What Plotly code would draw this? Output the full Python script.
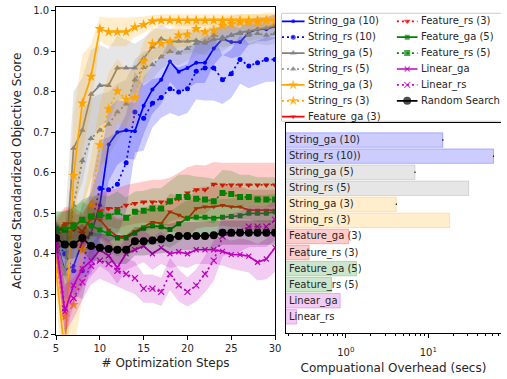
import plotly.graph_objects as go

# ---------------- data ----------------
steps = list(range(5, 31))

string_ga_10 = [0.43, 0.36, 0.37, 0.43, 0.45, 0.52, 0.67, 0.70, 0.705, 0.703, 0.766, 0.806, 0.83, 0.875, 0.85, 0.859, 0.872, 0.872, 0.907, 0.931, 0.923, 0.923, 0.947, 0.955, 0.955, 0.962]
string_rs_10 = [0.43, 0.40, 0.358, 0.358, 0.47, 0.562, 0.558, 0.572, 0.625, 0.75, 0.735, 0.772, 0.786, 0.808, 0.80, 0.808, 0.851, 0.859, 0.859, 0.83, 0.845, 0.88, 0.864, 0.872, 0.88, 0.88]
string_ga_5 = [0.43, 0.35, 0.661, 0.705, 0.794, 0.816, 0.816, 0.859, 0.859, 0.859, 0.883, 0.911, 0.931, 0.925, 0.925, 0.925, 0.927, 0.92, 0.93, 0.93, 0.94, 0.947, 0.95, 0.955, 0.958, 0.965]
string_rs_5 = [0.43, 0.35, 0.52, 0.63, 0.685, 0.705, 0.72, 0.75, 0.77, 0.83, 0.86, 0.867, 0.887, 0.90, 0.896, 0.907, 0.92, 0.925, 0.94, 0.935, 0.94, 0.944, 0.94, 0.944, 0.94, 0.944]
string_ga_3 = [0.36, 0.15, 0.593, 0.772, 0.838, 0.956, 0.948, 0.948, 0.948, 0.96, 0.966, 0.975, 0.977, 0.977, 0.977, 0.977, 0.977, 0.977, 0.977, 0.977, 0.977, 0.977, 0.977, 0.977, 0.977, 0.977]
string_rs_3 = [0.38, 0.245, 0.274, 0.41, 0.52, 0.669, 0.758, 0.802, 0.782, 0.786, 0.875, 0.919, 0.919, 0.925, 0.94, 0.942, 0.956, 0.948, 0.952, 0.964, 0.968, 0.972, 0.972, 0.972, 0.976, 0.976]
feature_ga_3 = [0.45, 0.475, 0.475, 0.455, 0.488, 0.484, 0.459, 0.443, 0.443, 0.455, 0.467, 0.478, 0.475, 0.504, 0.496, 0.486, 0.512, 0.516, 0.516, 0.52, 0.516, 0.516, 0.508, 0.508, 0.508, 0.508]
feature_rs_3 = [0.44, 0.47, 0.46, 0.45, 0.49, 0.505, 0.512, 0.512, 0.52, 0.524, 0.528, 0.528, 0.528, 0.528, 0.536, 0.55, 0.558, 0.558, 0.572, 0.57, 0.57, 0.57, 0.57, 0.57, 0.57, 0.57]
feature_ga_5 = [0.459, 0.459, 0.467, 0.484, 0.469, 0.459, 0.451, 0.439, 0.439, 0.451, 0.463, 0.469, 0.467, 0.46, 0.474, 0.488, 0.49, 0.49, 0.488, 0.49, 0.492, 0.494, 0.5, 0.5, 0.5, 0.504]
feature_rs_5 = [0.46, 0.46, 0.47, 0.484, 0.492, 0.496, 0.492, 0.504, 0.489, 0.504, 0.506, 0.512, 0.512, 0.53, 0.54, 0.54, 0.536, 0.534, 0.53, 0.55, 0.548, 0.54, 0.54, 0.534, 0.534, 0.534]
linear_ga = [0.43, 0.257, 0.322, 0.363, 0.383, 0.41, 0.395, 0.366, 0.40, 0.41, 0.419, 0.40, 0.415, 0.40, 0.405, 0.40, 0.41, 0.41, 0.41, 0.406, 0.398, 0.398, 0.394, 0.379, 0.387, 0.415]
linear_rs = [0.43, 0.265, 0.29, 0.33, 0.37, 0.383, 0.375, 0.358, 0.35, 0.34, 0.314, 0.314, 0.306, 0.35, 0.322, 0.306, 0.322, 0.35, 0.383, 0.443, 0.45, 0.455, 0.467, 0.467, 0.467, 0.484]
random_search = [0.439, 0.423, 0.423, 0.439, 0.419, 0.415, 0.412, 0.41, 0.41, 0.431, 0.431, 0.433, 0.436, 0.439, 0.444, 0.444, 0.444, 0.444, 0.446, 0.452, 0.452, 0.452, 0.452, 0.452, 0.452, 0.452]

# spread (shaded band half-widths)
string_ga_10_sd = [0.05, 0.07, 0.08, 0.09, 0.1, 0.1, 0.09, 0.08, 0.07, 0.07, 0.07, 0.06, 0.06, 0.05, 0.05, 0.05, 0.05, 0.05, 0.04, 0.04, 0.04, 0.035, 0.03, 0.03, 0.03, 0.03]
string_rs_10_sd = [0.05, 0.06, 0.06, 0.07, 0.1, 0.12, 0.13, 0.13, 0.12, 0.1, 0.08, 0.06, 0.05, 0.06, 0.06, 0.06, 0.07, 0.08, 0.08, 0.06, 0.06, 0.06, 0.055, 0.055, 0.055, 0.055]
string_ga_5_sd = [0.05, 0.12, 0.14, 0.13, 0.11, 0.1, 0.09, 0.08, 0.07, 0.06, 0.05, 0.04, 0.035, 0.03, 0.03, 0.03, 0.03, 0.03, 0.03, 0.03, 0.025, 0.025, 0.025, 0.025, 0.025, 0.025]
string_rs_5_sd = [0.05, 0.1, 0.12, 0.12, 0.1, 0.09, 0.08, 0.07, 0.06, 0.05, 0.04, 0.035, 0.03, 0.03, 0.03, 0.03, 0.03, 0.03, 0.025, 0.025, 0.025, 0.025, 0.025, 0.025, 0.025, 0.025]
string_ga_3_sd = [0.06, 0.15, 0.15, 0.12, 0.08, 0.03, 0.035, 0.035, 0.035, 0.025, 0.02, 0.015, 0.015, 0.015, 0.015, 0.015, 0.015, 0.015, 0.015, 0.015, 0.015, 0.015, 0.015, 0.015, 0.015, 0.015]
string_rs_3_sd = [0.06, 0.1, 0.12, 0.12, 0.12, 0.1, 0.09, 0.08, 0.07, 0.07, 0.05, 0.04, 0.035, 0.03, 0.03, 0.03, 0.025, 0.025, 0.02, 0.02, 0.02, 0.02, 0.02, 0.02, 0.02, 0.02]
feature_ga_3_sd = [0.04, 0.04, 0.04, 0.045, 0.045, 0.045, 0.045, 0.045, 0.045, 0.045, 0.045, 0.045, 0.045, 0.045, 0.045, 0.045, 0.05, 0.05, 0.05, 0.05, 0.05, 0.05, 0.05, 0.05, 0.05, 0.05]
feature_rs_3_sd = [0.04, 0.04, 0.04, 0.045, 0.045, 0.045, 0.045, 0.05, 0.05, 0.05, 0.05, 0.055, 0.055, 0.06, 0.064, 0.064, 0.062, 0.06, 0.055, 0.055, 0.055, 0.055, 0.055, 0.055, 0.055, 0.055]
feature_ga_5_sd = [0.045, 0.045, 0.045, 0.045, 0.045, 0.045, 0.045, 0.045, 0.045, 0.045, 0.045, 0.045, 0.045, 0.045, 0.045, 0.045, 0.045, 0.045, 0.045, 0.045, 0.045, 0.045, 0.045, 0.045, 0.045, 0.045]
feature_rs_5_sd = [0.045, 0.045, 0.045, 0.05, 0.05, 0.05, 0.05, 0.05, 0.05, 0.05, 0.05, 0.05, 0.05, 0.05, 0.055, 0.055, 0.055, 0.055, 0.055, 0.057, 0.057, 0.055, 0.055, 0.055, 0.055, 0.055]
linear_ga_sd = [0.04, 0.06, 0.05, 0.045, 0.04, 0.04, 0.04, 0.04, 0.04, 0.04, 0.04, 0.04, 0.04, 0.035, 0.035, 0.035, 0.035, 0.035, 0.035, 0.035, 0.035, 0.04, 0.04, 0.045, 0.05, 0.06]
linear_rs_sd = [0.04, 0.06, 0.05, 0.045, 0.045, 0.045, 0.045, 0.04, 0.04, 0.04, 0.035, 0.035, 0.035, 0.04, 0.04, 0.036, 0.04, 0.045, 0.05, 0.05, 0.05, 0.05, 0.05, 0.05, 0.05, 0.05]
random_search_sd = [0.035, 0.035, 0.035, 0.035, 0.035, 0.035, 0.035, 0.035, 0.035, 0.035, 0.035, 0.035, 0.035, 0.035, 0.035, 0.035, 0.035, 0.035, 0.035, 0.03, 0.03, 0.03, 0.03, 0.03, 0.03, 0.03]

series_names = ["String_ga (10)", "String_rs (10)", "String_ga (5)", "String_rs (5)",
                "String_ga (3)", "String_rs (3)", "Feature_ga (3)", "Feature_rs (3)",
                "Feature_ga (5)", "Feature_rs (5)", "Linear_ga", "Linear_rs", "Random Search"]
series_values = [string_ga_10, string_rs_10, string_ga_5, string_rs_5, string_ga_3, string_rs_3,
                 feature_ga_3, feature_rs_3, feature_ga_5, feature_rs_5, linear_ga, linear_rs, random_search]
series_sd = [string_ga_10_sd, string_rs_10_sd, string_ga_5_sd, string_rs_5_sd, string_ga_3_sd, string_rs_3_sd,
             feature_ga_3_sd, feature_rs_3_sd, feature_ga_5_sd, feature_rs_5_sd, linear_ga_sd, linear_rs_sd,
             random_search_sd]

bar_labels = ["String_ga (10)", "String_rs (10))", "String_ga (5)", "String_rs (5)",
              "String_ga (3)", "String_rs (3)", "Feature_ga (3)", "Feature_rs (3)",
              "Feature_ga (5)", "Feature_rs (5)", "Linear_ga", "Linear_rs"]
overhead_secs = [15.0, 61.7, 6.9, 30.8, 4.1, 18.1, 1.08, 0.36, 1.35, 0.67, 0.855, 0.254]
overhead_err = [0.25, 0.8, 0.1, 0.0, 0.06, 0.0, 0.0, 0.0, 0.0, 0.0, 0.0, 0.0]

# ---------------- styles ----------------
BLUE, GRAY, ORANGE, RED, GREEN, MAG, BLACK = "#0000ff", "#808080", "#ffa500", "#ff0000", "#008000", "#bf00bf", "#000000"
DOT = "2px,3px"


def rgba(hex_color, a):
    h = hex_color.lstrip("#")
    return "rgba(%d,%d,%d,%s)" % (int(h[0:2], 16), int(h[2:4], 16), int(h[4:6], 16), a)


styles = [
    (BLUE, "solid", "circle", 4),
    (BLUE, DOT, "circle", 5),
    (GRAY, "solid", "triangle-up", 6),
    (GRAY, DOT, "triangle-up", 6),
    (ORANGE, "solid", "star", 8),
    (ORANGE, DOT, "star", 8),
    (RED, "solid", "triangle-down", 5),
    (RED, DOT, "triangle-down", 6),
    (GREEN, "solid", "square", 5),
    (GREEN, DOT, "square", 6),
    (MAG, "solid", "x-thin-open", 5),
    (MAG, DOT, "x-thin-open", 6),
    (BLACK, "solid", "circle", 8),
]
bar_colors = [BLUE, BLUE, GRAY, GRAY, ORANGE, ORANGE, RED, RED, GREEN, GREEN, MAG, MAG]

FONT = "DejaVu Sans"
TXT = "#262626"

fig = go.Figure()

# ---------------- left: convergence curves ----------------
for name, vals, sd, (col, dash, sym, ms) in zip(series_names, series_values, series_sd, styles):
    upper = [v + s for v, s in zip(vals, sd)]
    lower = [v - s for v, s in zip(vals, sd)]
    fig.add_trace(go.Scatter(
        x=steps + steps[::-1], y=upper + lower[::-1], fill="toself",
        fillcolor=rgba(col, 0.2), line=dict(width=0), mode="lines",
        hoverinfo="skip", showlegend=False, xaxis="x", yaxis="y"))
    fig.add_trace(go.Scatter(
        x=steps, y=vals, mode="lines+markers", name=name, showlegend=False,
        line=dict(color=col, width=1.7, dash=dash),
        marker=dict(symbol=sym, size=ms, color=col, line=dict(color=col, width=1.2 if "x" in sym else 0)),
        xaxis="x", yaxis="y"))

# ---------------- right: overhead bars ----------------
fig.add_trace(go.Bar(
    y=bar_labels, x=overhead_secs, orientation="h", width=0.9,
    marker=dict(color=[rgba(c, 0.2) for c in bar_colors], line=dict(color=[rgba(c, 0.25) for c in bar_colors], width=1)),
    error_x=dict(type="data", array=overhead_err, color="black", thickness=1.5, width=0),
    showlegend=False, xaxis="x2", yaxis="y2"))

X2_RANGE = [-0.726, 1.881]
for lab in bar_labels:
    fig.add_annotation(x=X2_RANGE[0], y=lab, xref="x2", yref="y2", text=lab, showarrow=False,
                       xanchor="left", yanchor="middle", xshift=1,
                       font=dict(family=FONT, size=10, color=TXT))

# ---------------- custom legend (hidden pixel axis) ----------------
col_x = [(284, 307, 308), (401, 422, 424)]
row_y = [20.7, 36.9, 53.1, 69.3, 85.5, 101.7, 117.9]
for i, (name, (col, dash, sym, ms)) in enumerate(zip(series_names, styles)):
    c = 0 if i < 7 else 1
    r = i if i < 7 else i - 7
    x0, x1, xt = col_x[c]
    y = row_y[r]
    fig.add_trace(go.Scatter(
        x=[x0, (x0 + x1) / 2, x1], y=[y, y, y], mode="lines+markers",
        line=dict(color=col, width=1.7, dash=dash),
        marker=dict(symbol=sym, size=[0, ms, 0], color=col,
                    line=dict(color=col, width=1.2 if "x" in sym else 0)),
        showlegend=False, hoverinfo="skip", xaxis="x3", yaxis="y3"))
    fig.add_annotation(x=xt, y=y, xref="x3", yref="y3", text=name, showarrow=False,
                       xanchor="left", yanchor="middle", font=dict(family=FONT, size=10, color=TXT))

fig.add_shape(type="rect", xref="x3", yref="y3", x0=283.5, x1=540, y0=12.5, y1=122.5,
              line=dict(color="#cccccc", width=1), fillcolor="rgba(255,255,255,0.8)", layer="below")

W, H = 507, 379
minor_vals = [v * m for v in (0.1, 1, 10) for m in range(2, 10)]

fig.update_layout(
    width=W, height=H, margin=dict(l=0, r=0, t=0, b=0),
    paper_bgcolor="white", plot_bgcolor="rgba(0,0,0,0)",
    font=dict(family=FONT, size=10, color=TXT),
    showlegend=False,
    xaxis=dict(domain=[54 / W, 277 / W], range=[5, 30], tickvals=[5, 10, 15, 20, 25, 30],
               showline=True, mirror=True, linecolor="black", linewidth=1, showgrid=False, zeroline=False,
               ticks="outside", ticklen=4, tickcolor="black",
               title=dict(text="# Optimization Steps", standoff=5), anchor="y"),
    yaxis=dict(domain=[1 - 340 / H, 1 - 6 / H], range=[0.2, 1.01],
               tickvals=[0.2, 0.3, 0.4, 0.5, 0.6, 0.7, 0.8, 0.9, 1.0], tickformat=".1f",
               showline=True, mirror=True, linecolor="black", linewidth=1, showgrid=False, zeroline=False,
               ticks="outside", ticklen=4, tickcolor="black",
               title=dict(text="Achieved Standardized Objective Score", standoff=8), anchor="x"),
    xaxis2=dict(domain=[288 / W, 1.0], type="log", range=X2_RANGE, anchor="y2",
                tickvals=[1, 10], ticktext=["10<sup>0</sup>", "10<sup>1</sup>"],
                ticks="outside", ticklen=4, tickcolor="black", ticklabelstandoff=6,
                minor=dict(tickvals=minor_vals, ticks="outside", ticklen=2, tickcolor="black"),
                showline=True, mirror=True, linecolor="black", linewidth=1, showgrid=False, zeroline=False,
                title=dict(text="Compuational Overhead (secs)", standoff=6)),
    yaxis2=dict(domain=[1 - 338 / H, 1 - 124 / H], anchor="x2", type="category",
                categoryorder="array", categoryarray=bar_labels, range=[11.99, -1.08],
                showticklabels=False, ticks="", showline=True, mirror=False, linecolor="black",
                linewidth=1, showgrid=False, zeroline=False),
    xaxis3=dict(domain=[280 / W, 1.0], range=[280, 507], visible=False, anchor="y3", fixedrange=True),
    yaxis3=dict(domain=[1 - 125 / H, 1 - 8 / H], range=[125, 8], visible=False, anchor="x3", fixedrange=True),
)

fig.write_html("out.html")
